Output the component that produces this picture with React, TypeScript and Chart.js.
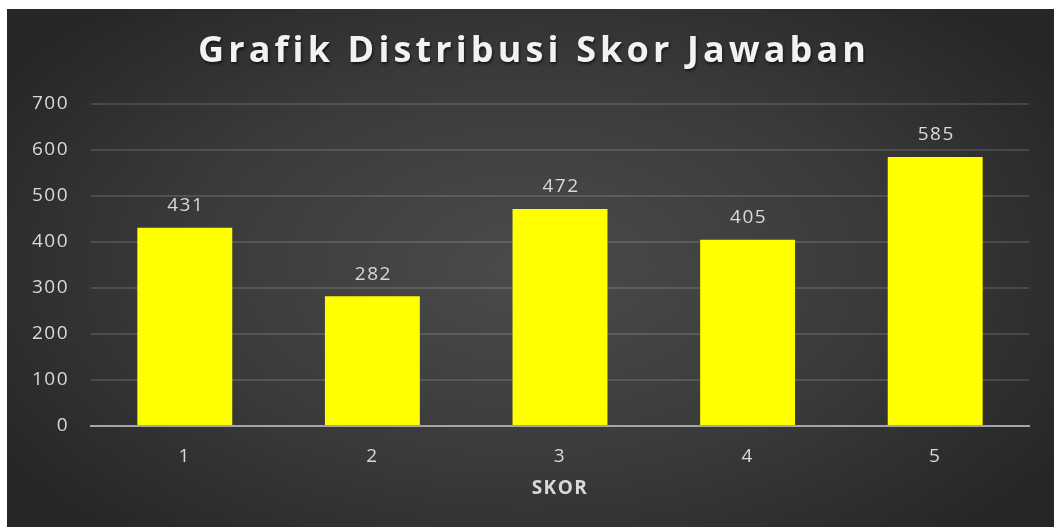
import React, { useEffect, useRef } from "react";
import { Chart, registerables } from "chart.js";

Chart.register(...registerables);

const TITLE = "Grafik Distribusi Skor Jawaban";
const X_TITLE = "SKOR";
const categories = ["1", "2", "3", "4", "5"];
const counts = [431, 282, 472, 405, 585];
const yTicks = [0, 100, 200, 300, 400, 500, 600, 700];

const W = 1047;
const H = 518;
const FONT = '"Open Sans", "DejaVu Sans", sans-serif';
const LABEL_COLOR = "#d9d9d9";

const spacingPlugin = {
  id: "spacing",
  beforeUpdate(chart: any) {
    chart.ctx.letterSpacing = "1.5px";
  },
  beforeDraw(chart: any) {
    chart.ctx.letterSpacing = "1.5px";
  },
};

const dataLabelPlugin = {
  id: "dataLabels",
  afterDatasetsDraw(chart: any) {
    const ctx = chart.ctx;
    const meta = chart.getDatasetMeta(0);
    ctx.save();
    ctx.letterSpacing = "1.5px";
    ctx.font = `19px ${FONT}`;
    ctx.fillStyle = LABEL_COLOR;
    ctx.textAlign = "center";
    ctx.textBaseline = "middle";
    meta.data.forEach((el: any, i: number) => {
      ctx.fillText(String(counts[i]), el.x + 1, el.y - 22);
    });
    ctx.restore();
  },
};

const titlePlugin = {
  id: "customTitle",
  afterDraw(chart: any) {
    const ctx = chart.ctx;
    ctx.save();
    ctx.font = `bold 36px ${FONT}`;
    ctx.letterSpacing = "0px";
    const w0 = ctx.measureText(TITLE).width;
    const target = 668;
    const ls = (target - w0) / (TITLE.length - 1);
    ctx.letterSpacing = `${ls}px`;
    ctx.fillStyle = "#f2f2f2";
    ctx.textAlign = "left";
    ctx.textBaseline = "middle";
    ctx.shadowColor = "rgba(0,0,0,0.6)";
    ctx.shadowBlur = 3;
    ctx.shadowOffsetX = 1;
    ctx.shadowOffsetY = 2;
    ctx.fillText(TITLE, 525 - target / 2, 43);
    ctx.restore();
  },
};

export default function App() {
  const ref = useRef<HTMLCanvasElement | null>(null);

  useEffect(() => {
    if (!ref.current) return;
    const chart = new Chart(ref.current, {
      type: "bar",
      data: {
        labels: categories,
        datasets: [
          {
            data: counts,
            backgroundColor: "#ffff00",
            borderWidth: 0,
            barPercentage: 0.506,
            categoryPercentage: 1,
          },
        ],
      },
      plugins: [spacingPlugin, dataLabelPlugin, titlePlugin],
      options: {
        responsive: false,
        animation: false,
        layout: { padding: { top: 95, right: 25, left: 0, bottom: 0 } },
        plugins: {
          legend: { display: false },
          title: { display: false },
          tooltip: { enabled: false },
        },
        scales: {
          x: {
            grid: { display: false, drawTicks: false },
            border: { display: true, color: "#a6a6a6", width: 2 },
            ticks: {
              color: LABEL_COLOR,
              font: { family: FONT, size: 19 },
              padding: 19,
            },
            title: {
              display: true,
              text: X_TITLE,
              color: LABEL_COLOR,
              font: { family: FONT, size: 19, weight: "bold" },
              padding: { top: 0, bottom: 27 },
            },
            afterFit(scale: any) {
              scale.height = 101;
            },
          },
          y: {
            min: 0,
            max: 700,
            afterBuildTicks(scale: any) {
              scale.ticks = yTicks.map((v) => ({ value: v }));
            },
            grid: {
              drawTicks: false,
              color: (c: any) =>
                c.tick && c.tick.value === 0 ? "rgba(0,0,0,0)" : "rgba(255,255,255,0.13)",
              lineWidth: 2,
            },
            border: { display: false },
            ticks: {
              color: LABEL_COLOR,
              font: { family: FONT, size: 19 },
              padding: 22,
            },
            afterFit(scale: any) {
              scale.width = 84;
            },
          },
        },
      },
    });
    return () => chart.destroy();
  }, []);

  return (
    <div
      style={{
        position: "fixed",
        left: 7,
        top: 9,
        width: W,
        height: H,
        background:
          "radial-gradient(ellipse 60% 70% at 50% 50%, #4b4b4b 0%, #3a3a3a 55%, #262626 100%)",
      }}
    >
      <canvas ref={ref} width={W} height={H} style={{ display: "block", width: W, height: H }} />
    </div>
  );
}
